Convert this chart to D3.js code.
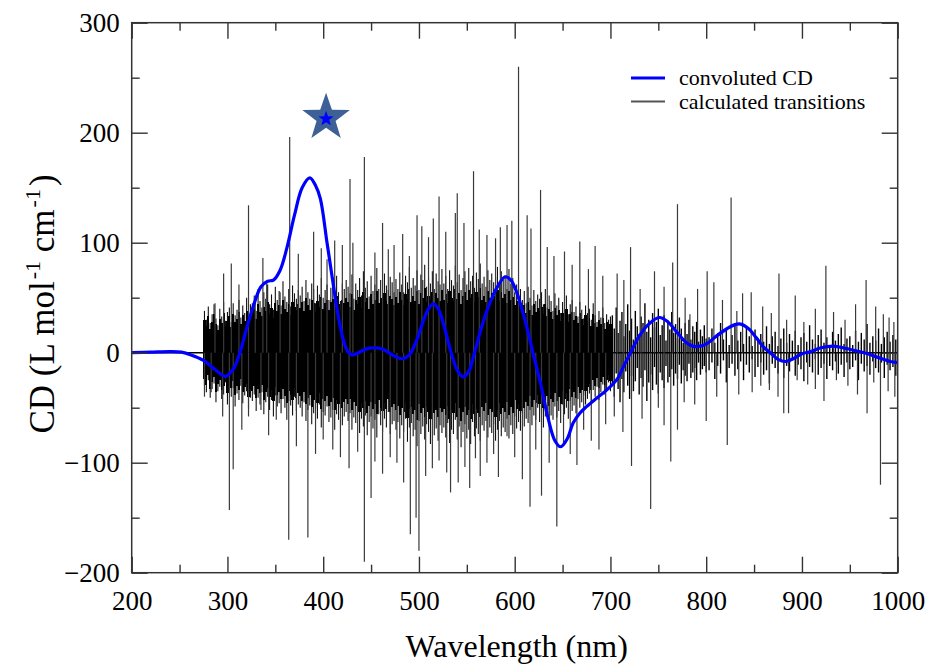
<!DOCTYPE html>
<html><head><meta charset="utf-8">
<script src="https://cdn.jsdelivr.net/npm/d3@7"></script>
<style>
body{margin:0;background:#fff}
svg{display:block}
text{font-family:"Liberation Serif","Times New Roman",serif;fill:#000}
</style>
</head><body>
<svg id="chart" width="930" height="665"></svg>
<script>
// ---- convoluted CD curve (wavelength nm, CD) ----
const curveWl = [200,220,240,252,262,275,288,298,306,313,320,328,335,342,348,355,362,370,378,386,392,397,404,410,414,420,425,430,437,445,454,463,472,483,490,497,505,510,515,520,526,532,540,546,552,558,566,574,582,590,596,602,610,619,627,635,642,648,655,661,668,675,686,696,707,714,721,730,740,751,760,770,778,786,794,802,812,822,830,836,844,852,860,867,875,883,892,900,909,920,933,945,955,965,975,985,992,1000];
const curveCd = [0,0.5,1,0.5,-2,-7,-16,-21.5,-15,0,22,45,60,65,66,75,95,125,150,159,152,140,100,65,42,15,2,-2,0,3.5,4.5,3,-2,-5.5,-2,10,30,40,44.5,40,25,5,-16,-22,-17,0,25,45,60,69,66,55,32,0,-28,-60,-80,-85.5,-78,-64,-55,-49,-41,-34,-24,-12,0,15,26,32,28,18,10,6,6,9,16,22,25.5,26,22,14,5,0,-6,-8,-5,-1,1,4.5,6,4,2,0,-3,-6,-8,-9];

// ---- calculated transitions, dense part (wavelengths) ----
const forestWl = [
276,278,280,282,284,286,288,290,292,294,296,298,300,302,304,306,308,310,312,314,316,318,320,322,324,
326,328,330,332,334,336,338,340,342,344,346,348,350,352,354,356,358,360,362,364,366,368,370,372,374,
376,378,380,382,384,386,388,390,392,394,396,398,400,402,404,406,408,410,412,414,416,418,420,422,424,
426,428,430,432,434,436,438,440,442,444,446,448,450,452,454,456,458,460,462,464,466,468,470,472,474,
476,478,480,482,484,486,488,490,492,494,496,498,500,502,504,506,508,510,512,514,516,518,520,522,524,
526,528,530,532,534,536,538,540,542,544,546,548,550,552,554,556,558,560,562,564,566,568,570,572,574,
576,578,580,582,584,586,588,590,592,594,596,598,600,602,604,606,608,610,612,614,616,618,620,622,624,
626,628,630,632,634,636,638,640,642,644,646,648,650,652,654,656,658,660,662,664,666,668,670,672,674,
676,678,680,682,684,686,688,690,692,694,696,698,700];
// outer (thin) transitions
const forestPos = [
38,30,42,27,35,44,31,25,40,33,46,29,37,41,28,45,34,39,48,32,43,36,50,38,44,
45,52,38,58,47,41,55,49,62,44,53,39,60,48,56,43,65,51,46,58,42,61,54,49,57,
52,60,47,66,55,49,63,58,45,61,53,68,50,57,62,48,59,64,52,70,55,47,63,58,66,
60,54,71,49,63,57,68,52,74,59,65,51,70,56,62,77,58,66,53,72,61,57,69,64,55,
67,58,73,62,55,70,64,78,59,68,61,75,57,71,66,80,60,69,63,74,58,72,65,62,76,
63,70,58,75,66,61,79,64,71,57,68,74,62,77,65,70,59,73,67,81,63,69,60,75,66,
72,64,69,78,61,74,66,70,58,76,63,68,55,62,52,58,48,56,45,60,50,43,57,47,53,
49,55,44,58,41,52,47,38,54,43,50,36,46,40,52,35,44,48,37,42,33,46,39,31,43,
36,40,30,45,34,28,38,32,41,27,35,30,33];
const forestNeg = [
-30,-36,-25,-41,-33,-28,-45,-35,-31,-42,-38,-27,-47,-34,-40,-32,-49,-37,-43,-30,-46,-39,-35,-51,-41,
-44,-38,-53,-41,-47,-36,-56,-45,-40,-52,-43,-58,-39,-49,-46,-55,-42,-50,-61,-44,-48,-57,-40,-53,-47,
-50,-58,-45,-62,-52,-48,-65,-55,-51,-60,-47,-68,-54,-57,-49,-63,-59,-52,-70,-56,-61,-50,-66,-58,-54,
-62,-55,-70,-59,-64,-53,-73,-60,-67,-57,-75,-63,-58,-69,-61,-77,-56,-66,-72,-60,-68,-54,-74,-65,-62,
-70,-63,-78,-66,-72,-60,-81,-68,-64,-76,-70,-85,-62,-74,-67,-79,-65,-72,-83,-61,-75,-69,-80,-66,-73,
-68,-77,-64,-82,-70,-74,-61,-79,-67,-86,-72,-65,-78,-70,-83,-63,-76,-69,-74,-80,-66,-71,-62,-77,-68,
-73,-65,-80,-70,-62,-76,-68,-72,-60,-78,-66,-74,-58,-69,-63,-71,-55,-67,-60,-64,-52,-66,-57,-61,-50,
-63,-55,-68,-58,-52,-65,-57,-61,-49,-59,-53,-64,-47,-56,-50,-60,-44,-53,-48,-55,-42,-50,-45,-39,-47,
-42,-37,-45,-34,-40,-31,-43,-36,-29,-38,-33,-27,-35];
// densely packed (solid) core transitions
const corePos = [
30,24,33,22,28,35,26,21,31,27,36,24,29,33,23,35,28,31,37,26,34,29,38,30,35,
36,40,31,44,37,33,42,38,46,35,41,32,45,38,43,35,48,40,37,44,34,46,42,39,44,
41,46,38,50,43,39,48,45,37,47,42,51,40,45,48,39,46,49,42,52,44,38,48,45,50,
46,42,53,39,48,44,51,41,55,46,50,40,53,44,48,56,45,50,42,54,47,44,52,49,43,
51,45,55,48,43,53,49,58,46,52,47,56,44,54,50,59,46,52,48,55,45,54,50,47,57,
48,53,45,56,50,47,58,49,54,44,52,55,48,57,50,53,46,55,51,59,48,52,46,56,50,
54,49,52,57,47,55,50,53,45,56,48,51,43,47,41,45,38,43,36,46,39,34,44,37,41,
38,42,35,44,33,40,37,31,41,34,39,29,36,32,40,28,35,37,30,33,27,36,31,25,34,
29,32,24,35,27,23,30,26,32,22,28,24,26];
const coreNeg = [
-24,-29,-20,-33,-27,-22,-36,-28,-25,-34,-30,-22,-37,-27,-32,-26,-38,-30,-34,-24,-36,-31,-28,-40,-33,
-35,-30,-41,-33,-37,-29,-43,-36,-32,-40,-34,-44,-31,-38,-36,-42,-33,-39,-46,-35,-38,-43,-32,-41,-37,
-39,-44,-36,-47,-41,-38,-49,-43,-40,-46,-37,-51,-42,-44,-39,-48,-45,-41,-52,-43,-47,-39,-50,-45,-42,
-47,-42,-52,-45,-48,-41,-54,-46,-50,-44,-55,-48,-45,-51,-47,-56,-43,-50,-53,-46,-51,-42,-54,-49,-47,
-52,-48,-57,-50,-54,-46,-59,-51,-49,-56,-52,-61,-47,-55,-50,-58,-49,-54,-60,-46,-55,-52,-58,-50,-54,
-51,-57,-48,-60,-52,-55,-46,-58,-50,-62,-54,-49,-57,-52,-60,-47,-56,-51,-55,-58,-49,-53,-46,-57,-51,
-54,-49,-58,-52,-46,-56,-50,-54,-45,-57,-49,-55,-43,-51,-47,-53,-41,-50,-45,-48,-39,-49,-43,-46,-38,
-47,-41,-50,-43,-39,-48,-42,-45,-37,-44,-40,-47,-35,-42,-37,-44,-33,-40,-36,-41,-31,-37,-34,-29,-35,
-31,-28,-34,-25,-30,-23,-32,-27,-22,-29,-25,-20,-26];

// ---- calculated transitions: sparser long-wavelength part ----
const sparseWl = [
702,704,706,708,710,712,714,716,718,720,722,724,726,728,730,732,734,736,738,740,742,744,746,748,750,
752,754,756,758,760,762,764,766,768,770,772,774,776,778,780,782,784,786,788,790,792,794,796,798,800,
803,806,809,812,815,818,821,824,827,830,833,836,839,842,845,848,851,854,857,860,863,866,869,872,875,878,881,884,887,890,893,
896,899,902,905,908,911,914,917,920,923,926,929,932,935,938,941,944,947,950,953,956,959,962,965,968,971,974,977,980,983,986,989,992,995,998];
const sparsePos = [
34,22,41,18,29,37,15,26,44,20,31,12,38,24,17,33,27,45,19,30,14,36,23,28,40,
16,25,34,11,29,21,37,18,26,13,32,22,9,27,17,30,12,24,19,28,10,21,15,25,13,
14,22,9,18,27,12,20,7,16,25,11,19,8,23,15,6,21,13,17,10,24,8,15,19,6,13,22,9,17,11,20,
7,14,18,10,25,12,8,16,21,9,14,6,19,11,17,23,8,13,15,7,20,10,18,12,26,9,15,11,22,8,14,19,10,16,12];
const sparseNeg = [
-28,-40,-19,-33,-45,-24,-36,-17,-30,-42,-21,-35,-26,-14,-38,-23,-31,-16,-44,-27,-20,-34,-13,-29,-37,
-18,-25,-32,-12,-27,-22,-15,-30,-19,-24,-11,-28,-16,-21,-26,-10,-23,-18,-14,-25,-9,-20,-15,-12,-18,
-16,-9,-24,-12,-19,-7,-27,-14,-10,-21,-15,-8,-25,-11,-18,-6,-22,-13,-9,-20,-16,-28,-10,-14,-19,-8,-23,-12,-17,-7,-21,
-11,-15,-26,-9,-13,-18,-6,-20,-14,-10,-24,-12,-16,-8,-19,-11,-22,-9,-15,-13,-7,-25,-10,-17,-12,-20,-8,-14,-18,-9,-23,-11,-16,-13,-21];

// ---- individual prominent transitions ----
const spikeWl = [287,296,304,312,322,329,337,341,355,365,374,390,398,404,412,420,428,431,443,454,462,468,474,483,490,498,503,510,515,521,528,538,540,547,557,563,571,580,585,592,597,604,613,617,627,634,641,652,660,668,677,684,692,707,714,721,731,746,756,765,770,778,783,791,801,808,817,826,832,838,847,859,868,876,884,893,902,914,925,933,945,956,967,977,985,991,996,
276,283,295,302,306,315,322,335,343,351,364,372,384,392,400,410,418,427,436,443,450,454,462,470,477,484,491,497,500,507,514,521,529,533,541,548,553,559,564,571,578,583,592,600,608,616,622,628,636,644,651,658,665,672,680,688,695,704,713,722,733,742,750,756,763,770,777,788,800,811,822,834,848,857,866,875,881,886,895,906,914,923,936,948,958,968,975,982,990,997];
const spikeCd = [45,72,81,62,134,48,86,63,55,196,90,110,95,85,102,98,158,100,178,91,118,94,98,108,88,125,115,105,122,142,110,127,145,118,165,112,107,104,114,116,120,260,125,113,148,96,88,92,80,101,76,97,70,72,66,96,58,74,60,82,135,50,35,58,74,64,48,141,38,54,55,42,36,72,30,52,28,40,79,37,30,44,66,42,35,32,28,
-40,-36,-58,-143,-106,-70,-58,-52,-75,-61,-170,-85,-168,-92,-79,-88,-95,-105,-90,-190,-132,-99,-110,-95,-100,-118,-165,-150,-180,-112,-105,-98,-109,-127,-118,-104,-123,-96,-112,-100,-92,-113,-76,-95,-115,-140,-88,-130,-100,-158,-84,-92,-102,-70,-80,-88,-65,-58,-72,-103,-60,-142,-50,-66,-99,-70,-45,-47,-62,-40,-84,-38,-36,-30,-34,-40,-55,-55,-25,-29,-33,-44,-25,-30,-38,-55,-27,-120,-35,-40];

// ---- axes / legend / annotation ----
const xMajor = [200,300,400,500,600,700,800,900,1000];
const xMinor = [250,350,450,550,650,750,850,950];
const yMajor = [-200,-100,0,100,200,300];
const yMinor = [-150,-50,50,150,250];
const legendLabels = ["convoluted CD","calculated transitions"];
const legendColors = ["#0000ff","#555"];
const starWl = 403, starCd = 213.5;

const svg = d3.select("#chart");
const L = 131.7, R = 897.7, T = 22.7, B = 572.7;
const x = d3.scaleLinear().domain([200,1000]).range([L,R]);
const y = d3.scaleLinear().domain([-200,300]).range([B,T]);

// zero baseline of the stick spectrum
svg.append("line").attr("x1",x(200)).attr("x2",x(1000)).attr("y1",y(0)).attr("y2",y(0))
  .attr("stroke","#000").attr("stroke-width",1.5);

function sticks(wl, vals, width, color, crisp){
  const g = svg.append("g").attr("stroke",color).attr("stroke-width",width);
  if (crisp) g.attr("shape-rendering","crispEdges");
  g.selectAll("line").data(wl.map((w,i)=>[w,vals[i]]).filter(d=>d[1]!==undefined))
    .join("line")
    .attr("x1",d=>x(d[0])).attr("x2",d=>x(d[0]))
    .attr("y1",y(0)).attr("y2",d=>y(d[1]));
}
sticks(forestWl, forestPos, 1.1, "#111", false);
sticks(forestWl, forestNeg, 1.1, "#111", false);
sticks(forestWl, corePos, 2.2, "#000", true);
sticks(forestWl, coreNeg, 2.2, "#000", true);
sticks(sparseWl, sparsePos, 1.4, "#000", false);
sticks(sparseWl, sparseNeg, 1.4, "#000", false);
sticks(spikeWl, spikeCd, 1.2, "#3a3a3a", false);

// convoluted CD curve
const line = d3.line().x((d,i)=>x(curveWl[i])).y(d=>y(d)).curve(d3.curveCatmullRom.alpha(0.5));
svg.append("path").datum(curveCd).attr("d",line).attr("fill","none")
  .attr("stroke","#0000ff").attr("stroke-width",3.2).attr("stroke-linejoin","round");

// frame + ticks
function styleAxis(g){ g.select(".domain").remove(); g.selectAll(".tick line").attr("stroke","#333").attr("stroke-width",1.4); }
const fmtNone = ()=>"";
svg.append("g").attr("transform",`translate(0,${B})`)
  .call(d3.axisBottom(x).tickValues(xMajor).tickSizeInner(-16).tickSizeOuter(0).tickPadding(18).tickFormat(d3.format("d")))
  .call(styleAxis)
  .call(g=>g.selectAll("text").attr("font-size",27).attr("font-family","Liberation Serif").attr("fill","#111"));
svg.append("g").attr("transform",`translate(0,${B})`)
  .call(d3.axisBottom(x).tickValues(xMinor).tickSizeInner(-8).tickSizeOuter(0).tickFormat(fmtNone)).call(styleAxis);
svg.append("g").attr("transform",`translate(0,${T})`)
  .call(d3.axisTop(x).tickValues(xMajor).tickSizeInner(-16).tickSizeOuter(0).tickFormat(fmtNone)).call(styleAxis);
svg.append("g").attr("transform",`translate(0,${T})`)
  .call(d3.axisTop(x).tickValues(xMinor).tickSizeInner(-8).tickSizeOuter(0).tickFormat(fmtNone)).call(styleAxis);
svg.append("g").attr("transform",`translate(${L},0)`)
  .call(d3.axisLeft(y).tickValues(yMajor).tickSizeInner(-16).tickSizeOuter(0).tickPadding(12).tickFormat(d3.format("d")))
  .call(styleAxis)
  .call(g=>g.selectAll("text").attr("font-size",27).attr("font-family","Liberation Serif").attr("fill","#111"));
svg.append("g").attr("transform",`translate(${L},0)`)
  .call(d3.axisLeft(y).tickValues(yMinor).tickSizeInner(-8).tickSizeOuter(0).tickFormat(fmtNone)).call(styleAxis);
svg.append("g").attr("transform",`translate(${R},0)`)
  .call(d3.axisRight(y).tickValues(yMajor).tickSizeInner(-16).tickSizeOuter(0).tickFormat(fmtNone)).call(styleAxis);
svg.append("g").attr("transform",`translate(${R},0)`)
  .call(d3.axisRight(y).tickValues(yMinor).tickSizeInner(-8).tickSizeOuter(0).tickFormat(fmtNone)).call(styleAxis);
svg.append("rect").attr("x",L).attr("y",T).attr("width",R-L).attr("height",B-T)
  .attr("fill","none").attr("stroke","#333").attr("stroke-width",1.5);

// axis titles
svg.append("text").attr("x",(L+R)/2+2).attr("y",657).attr("text-anchor","middle")
  .attr("font-size",32).attr("fill","#111").text("Wavelength (nm)");
const yt = svg.append("text").attr("transform","translate(54,304) rotate(-90)")
  .attr("text-anchor","middle").attr("font-size",35).attr("fill","#111");
yt.append("tspan").text("CD (L mol");
yt.append("tspan").attr("font-size",22).attr("dx",2).attr("dy",-14).text("-1");
yt.append("tspan").attr("dy",14).text(" cm");
yt.append("tspan").attr("font-size",22).attr("dx",2).attr("dy",-14).text("-1");
yt.append("tspan").attr("dx",3).attr("dy",14).text(")");

// legend
const lg = svg.append("g");
legendLabels.forEach((t,i)=>{
  const yy = 78 + i*23.5;
  lg.append("line").attr("x1",631).attr("x2",665).attr("y1",yy).attr("y2",yy)
    .attr("stroke",legendColors[i]).attr("stroke-width",i===0?3.2:2.2);
  lg.append("text").attr("x",679).attr("y",yy+7).attr("font-size",22).attr("fill","#222").text(t);
});

// star annotation
function starPath(cx,cy,ro,ri){
  const pts = d3.range(10).map(k=>{
    const a = -Math.PI/2 + k*Math.PI/5, r = k%2===0?ro:ri;
    return [cx+r*Math.cos(a), cy+r*Math.sin(a)];
  });
  return "M"+pts.map(p=>p.join(",")).join("L")+"Z";
}
svg.append("path").attr("d",starPath(x(starWl),y(starCd),25,10)).attr("fill","#3d6196");
svg.append("path").attr("d",starPath(x(starWl),y(starCd)+1,8,3.3)).attr("fill","#0000ff");
</script>
</body></html>
